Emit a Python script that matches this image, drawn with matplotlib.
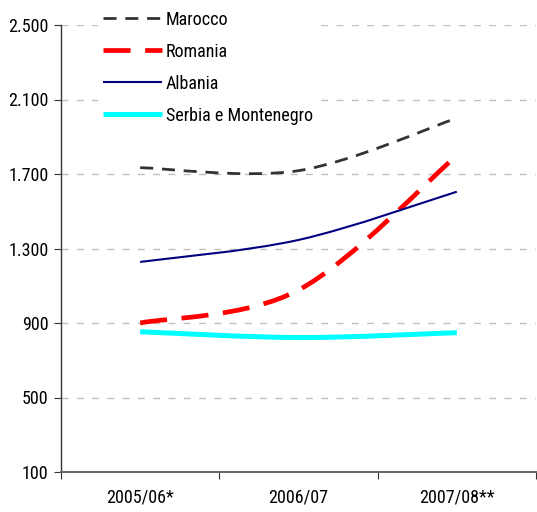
import numpy as np
import matplotlib
matplotlib.use("Agg")
import matplotlib.pyplot as plt
from matplotlib.path import Path
from matplotlib.patches import PathPatch
from matplotlib.lines import Line2D

plt.rcParams['lines.scale_dashes'] = False
plt.rcParams['font.family'] = ['Roboto Condensed', 'DejaVu Sans']
plt.rcParams['font.stretch'] = 'condensed'

categories = ["2005/06*", "2006/07", "2007/08**"]
marocco = [1734, 1718, 2000]
romania = [900, 1077, 1800]
albania = [1228, 1346, 1605]
serbia = [853, 822, 848]
yticks = [100, 500, 900, 1300, 1700, 2100, 2500]
ytick_labels = ["100", "500", "900", "1.300", "1.700", "2.100", "2.500"]

series = [
    ("Marocco", marocco, dict(color="#333333", lw=2.0, ls=(0, (9.4, 6.3)))),
    ("Romania", romania, dict(color="#ff0000", lw=3.4, ls=(0, (19.5, 10.5)))),
    ("Albania", albania, dict(color="#000080", lw=1.5, ls="-")),
    ("Serbia e Montenegro", serbia, dict(color="#00ffff", lw=3.6, ls="-")),
]

def smooth_path(xs, ys):
    pts = np.column_stack([xs, ys]).astype(float)
    n = len(pts)
    verts = [pts[0]]
    codes = [Path.MOVETO]
    for i in range(n - 1):
        p0 = pts[max(i - 1, 0)]
        p1 = pts[i]
        p2 = pts[i + 1]
        p3 = pts[min(i + 2, n - 1)]
        c1 = p1 + (p2 - p0) / 6.0
        c2 = p2 - (p3 - p1) / 6.0
        verts += [c1, c2, p2]
        codes += [Path.CURVE4] * 3
    return Path(verts, codes)

FS = 13

fig = plt.figure(figsize=(5.37, 5.12), dpi=100)
ax = fig.add_axes([61/537, 1 - 472/512, (536 - 61)/537, (472 - 25)/512])

xmin, xmax = -0.5, len(categories) - 0.5
x = np.arange(len(categories))
handles = []
for name, vals, st in series:
    p = smooth_path(x, vals)
    patch = PathPatch(p, fill=False, edgecolor=st["color"], lw=st["lw"],
                      linestyle=st["ls"], capstyle="butt", joinstyle="round", zorder=3)
    ax.add_patch(patch)
    handles.append(Line2D([], [], color=st["color"], lw=st["lw"], linestyle=st["ls"],
                          dash_capstyle="butt", solid_capstyle="butt", label=name))

ax.set_xlim(xmin, xmax)
ax.set_ylim(100, 2500)
ax.set_yticks(yticks)
ax.set_yticklabels(ytick_labels, fontsize=FS)
bounds = np.arange(len(categories) + 1) - 0.5
ax.set_xticks(bounds)
ax.set_xticklabels([])
ax.set_xticks(x, minor=True)
ax.set_xticklabels(categories, minor=True, fontsize=FS)
ax.tick_params(axis="x", which="minor", length=0, pad=12)
ax.tick_params(axis="x", which="major", length=5, direction="out", color="#333333")
ax.tick_params(axis="y", length=5, direction="out", color="#333333", pad=4)

for v in yticks[1:]:
    ax.axhline(v, color="#c0c0c0", lw=1.0, ls=(0, (5, 6)), zorder=1)

for s in ["top", "right"]:
    ax.spines[s].set_visible(False)
ax.spines["left"].set_color("#333333")
ax.spines["bottom"].set_color("#666666")
ax.spines["left"].set_linewidth(1.0)
ax.spines["bottom"].set_linewidth(1.4)

leg = fig.legend(handles=handles, loc="upper left", bbox_to_anchor=(98/537, 1 - 6/512),
                 frameon=True, handlelength=3.32, handletextpad=0.17,
                 labelspacing=0.78, borderpad=0.25, borderaxespad=0, prop=dict(size=FS))
leg.get_frame().set_facecolor("white")
leg.get_frame().set_edgecolor("none")
leg.get_frame().set_alpha(1)
leg.set_zorder(5)

fig.savefig("out.png", dpi=100)
